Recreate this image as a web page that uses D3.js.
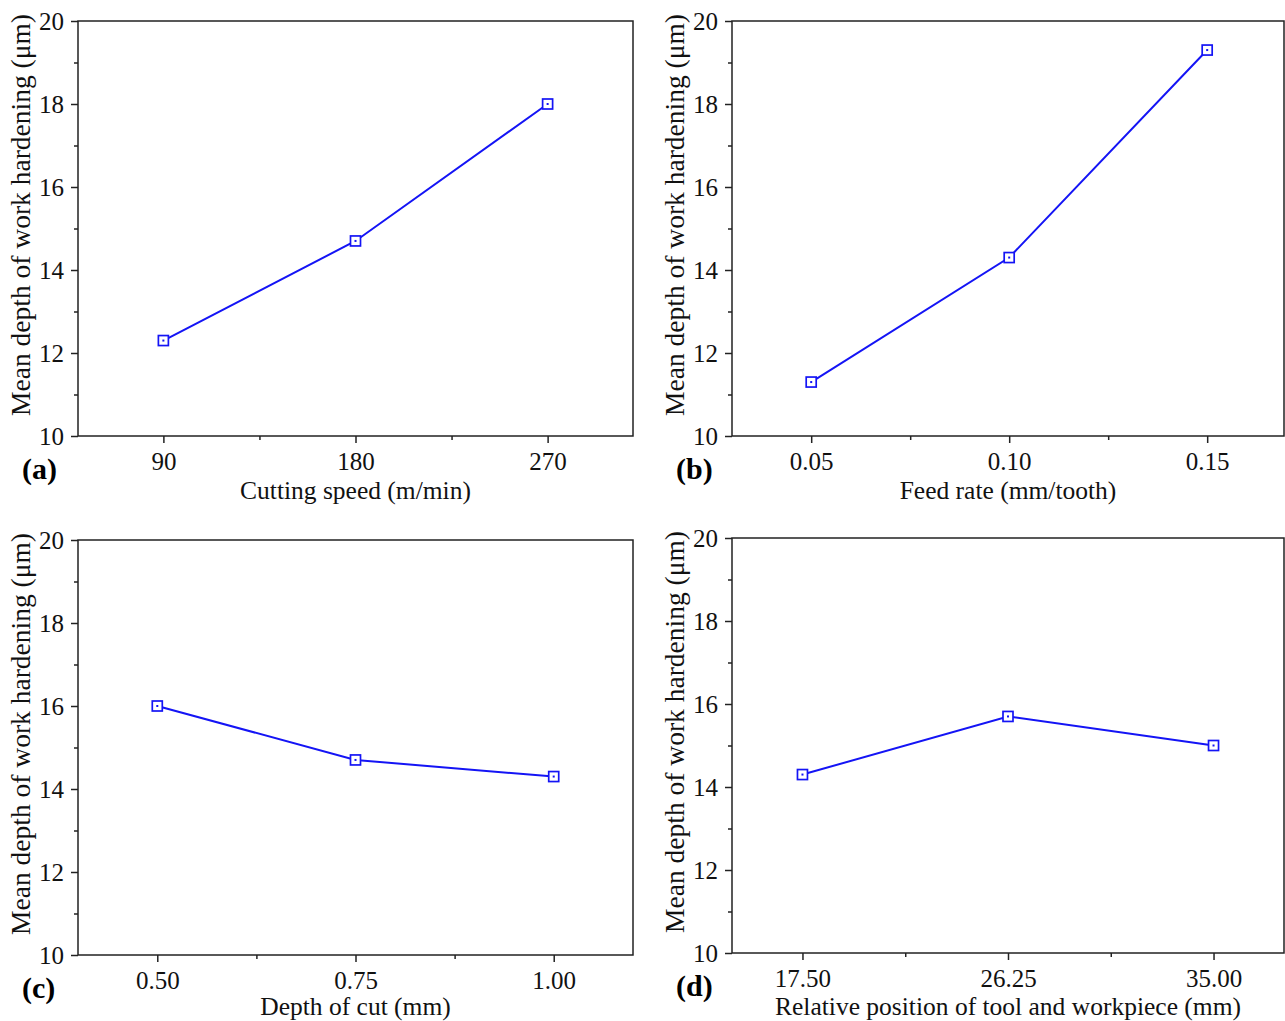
<!DOCTYPE html>
<html>
<head>
<meta charset="utf-8">
<script src="https://cdn.jsdelivr.net/npm/d3@7"></script>
<style>
  body { margin: 0; background: #fff; }
  svg, svg text { font-family: "Liberation Serif", "Times New Roman", serif; }
  svg { display: block; }
</style>
</head>
<body>
<div id="graph"></div>
<script>
// Data for each panel
const speedX = [90, 180, 270];
const speedY = [12.3, 14.7, 18.0];

const feedX = [0.05, 0.10, 0.15];
const feedY = [11.3, 14.3, 19.3];

const depthX = [0.50, 0.75, 1.00];
const depthY = [16.0, 14.7, 14.3];

const posX = [17.50, 26.25, 35.00];
const posY = [14.3, 15.7, 15.0];

const yTicks = [10, 12, 14, 16, 18, 20];
const yLabel = 'Mean depth of work hardening (\u03bcm)';

const svg = d3
	.select('#graph')
	.append('svg')
	.attr('width', 1285)
	.attr('height', 1021);

const blue = '#1414f5';

function drawPanel(p) {
	const g = svg.append('g');

	const x = d3.scaleLinear().domain(p.xDomain).range([p.left, p.right]);
	const y = d3.scaleLinear().domain([10, 20]).range([p.bottom, p.top]);

	// frame
	g.append('rect')
		.attr('x', p.left)
		.attr('y', p.top)
		.attr('width', p.right - p.left)
		.attr('height', p.bottom - p.top)
		.attr('fill', 'none')
		.attr('stroke', '#222')
		.attr('stroke-width', 1.5);

	// y axis, major + minor ticks
	const yAxis = g.append('g').attr('transform', `translate(${p.left},0)`);
	yAxis.call(d3.axisLeft(y).tickValues(yTicks).tickSize(7).tickPadding(7).tickFormat(d3.format('d')));
	yAxis.append('g').call(d3.axisLeft(y).tickValues([11, 13, 15, 17, 19]).tickSize(4).tickFormat(''));

	// x axis
	const xAxis = g.append('g').attr('transform', `translate(0,${p.bottom})`);
	xAxis.call(d3.axisBottom(x).tickValues(p.xs).tickSize(7).tickPadding(9).tickFormat(p.fmt));
	const minors = p.xs.slice(1).map((v, i) => (v + p.xs[i]) / 2);
	xAxis.append('g').call(d3.axisBottom(x).tickValues(minors).tickSize(4).tickFormat(''));

	g.selectAll('.domain').remove();
	g.selectAll('g').attr('font-family', null);
	g.selectAll('.tick line').attr('stroke', '#222').attr('stroke-width', 1.5);
	g.selectAll('.tick text')
		.attr('fill', '#111')
		.style('font-family', '"Liberation Serif", serif')
		.style('font-size', '25px');

	// y label
	g.append('text')
		.attr('transform', `translate(${p.left - 48},${p.top + 194}) rotate(-90)`)
		.attr('text-anchor', 'middle')
		.style('font-size', '27.5px')
		.attr('fill', '#111')
		.text(yLabel);

	// x label
	g.append('text')
		.attr('x', (p.left + p.right) / 2)
		.attr('y', p.bottom + p.titleDy)
		.attr('text-anchor', 'middle')
		.style('font-size', '25.5px')
		.attr('fill', '#111')
		.text(p.title);

	// panel letter
	g.append('text')
		.attr('x', p.left - 56)
		.attr('y', p.bottom + 43)
		.style('font-size', '30px')
		.style('font-weight', 'bold')
		.attr('fill', '#000')
		.text(p.letter);

	// line
	const pts = p.xs.map((v, i) => [v, p.ys[i]]);
	g.append('path')
		.datum(pts)
		.attr('fill', 'none')
		.attr('stroke', blue)
		.attr('stroke-width', 2)
		.attr('d', d3.line().x((d) => x(d[0])).y((d) => y(d[1])));

	// markers
	const m = g.selectAll('.mk').data(pts).join('g')
		.attr('transform', (d) => `translate(${x(d[0])},${y(d[1])})`);
	m.append('rect')
		.attr('x', -5).attr('y', -5)
		.attr('width', 10).attr('height', 10)
		.attr('fill', '#fff')
		.attr('stroke', blue)
		.attr('stroke-width', 1.7);
	m.append('rect')
		.attr('x', -1).attr('y', -1)
		.attr('width', 2).attr('height', 2)
		.attr('fill', blue);
}

drawPanel({
	left: 78, right: 633, top: 21, bottom: 436,
	xDomain: [50, 310], xs: speedX, ys: speedY,
	fmt: d3.format('d'), title: 'Cutting speed (m/min)', letter: '(a)', titleDy: 63,
});
drawPanel({
	left: 732, right: 1284, top: 21, bottom: 436,
	xDomain: [0.03, 0.1694], xs: feedX, ys: feedY,
	fmt: d3.format('.2f'), title: 'Feed rate (mm/tooth)', letter: '(b)', titleDy: 63,
});
drawPanel({
	left: 78, right: 633, top: 540, bottom: 955,
	xDomain: [0.4, 1.1], xs: depthX, ys: depthY,
	fmt: d3.format('.2f'), title: 'Depth of cut (mm)', letter: '(c)', titleDy: 60,
});
drawPanel({
	left: 732, right: 1284, top: 538, bottom: 953,
	xDomain: [14.5, 38], xs: posX, ys: posY,
	fmt: d3.format('.2f'), title: 'Relative position of tool and workpiece (mm)', letter: '(d)', titleDy: 62,
});
</script>
</body>
</html>
